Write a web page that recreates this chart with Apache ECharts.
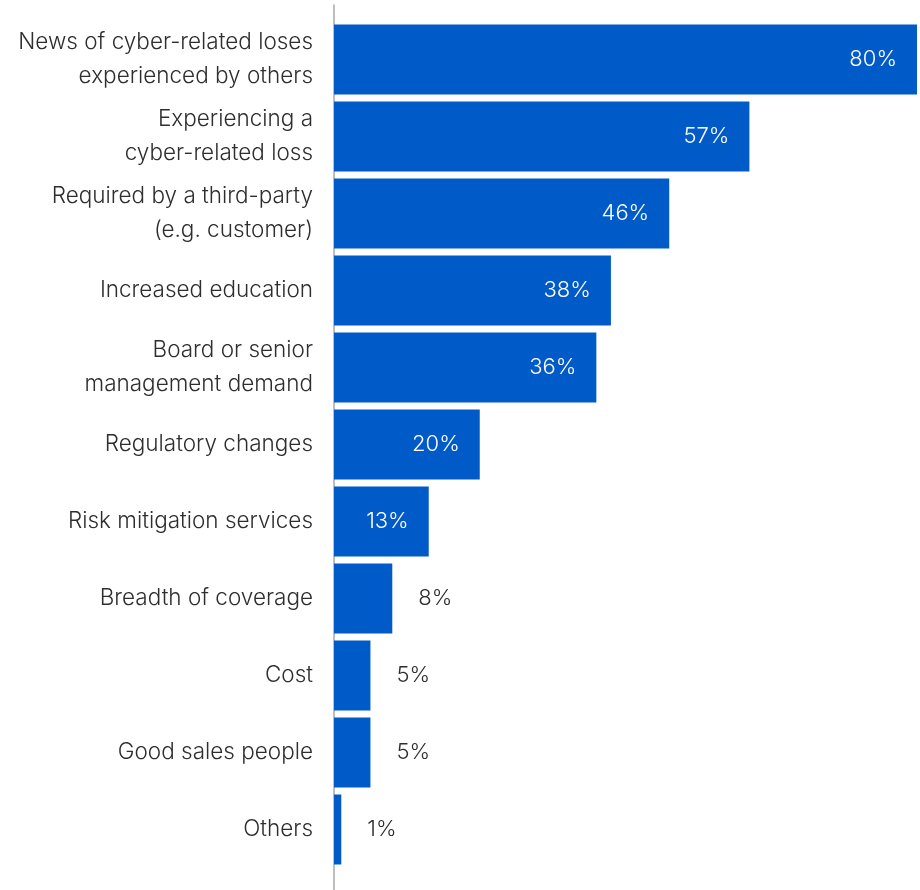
<!DOCTYPE html>
<html>
<head>
<meta charset="utf-8">
<script src="https://cdn.jsdelivr.net/npm/echarts@6/dist/echarts.min.js"></script>
<style>
  html, body { margin: 0; padding: 0; background: #fff; }
  #chart { width: 920px; height: 890px; }
</style>
</head>
<body>
<div id="chart"></div>
<script>
// categories, top to bottom
var categories = [
    'News of cyber-related loses\nexperienced by others',
    'Experiencing a\ncyber-related loss',
    'Required by a third-party\n(e.g. customer)',
    'Increased education',
    'Board or senior\nmanagement demand',
    'Regulatory changes',
    'Risk mitigation services',
    'Breadth of coverage',
    'Cost',
    'Good sales people',
    'Others'
];
var values = [80, 57, 46, 38, 36, 20, 13, 8, 5, 5, 1];

var barColor = '#005bc8';
var textColor = '#2e2e2e';
var fontFamily = 'Inter, sans-serif';

var chart = echarts.init(document.getElementById('chart'));

// small bars get their label outside, in dark text
var seriesData = values.map(function (v) {
    if (v >= 10) {
        return {
            value: v,
            label: { position: 'insideRight', distance: 20, color: '#ffffff' }
        };
    }
    return {
        value: v,
        label: { position: 'right', distance: 26, color: textColor }
    };
});

chart.setOption({
    animation: false,
    grid: [
        { left: 334, right: 3, top: 21, height: 847 },
        // only used for the tall axis line
        { left: 334, right: 3, top: 5, bottom: 0 }
    ],
    xAxis: [
        { gridIndex: 0, type: 'value', min: 0, max: 80, show: false },
        { gridIndex: 1, type: 'value', min: 0, max: 80, show: false }
    ],
    yAxis: [
        {
            gridIndex: 0,
            type: 'category',
            inverse: true,
            data: categories,
            axisLine: { show: false },
            axisTick: { show: false },
            axisLabel: {
                margin: 21,
                color: textColor,
                fontFamily: fontFamily,
                fontWeight: 300,
                fontSize: 22.5,
                lineHeight: 34
            }
        },
        {
            gridIndex: 1,
            type: 'value',
            axisLine: { show: true, lineStyle: { color: '#a8a8a8', width: 1.5 } },
            axisTick: { show: false },
            axisLabel: { show: false },
            splitLine: { show: false }
        }
    ],
    series: [{
        type: 'bar',
        xAxisIndex: 0,
        yAxisIndex: 0,
        data: seriesData,
        barWidth: 70,
        itemStyle: { color: barColor },
        label: {
            show: true,
            formatter: '{c}%',
            fontFamily: fontFamily,
            fontWeight: 300,
            fontSize: 22
        }
    }]
});
</script>
</body>
</html>
